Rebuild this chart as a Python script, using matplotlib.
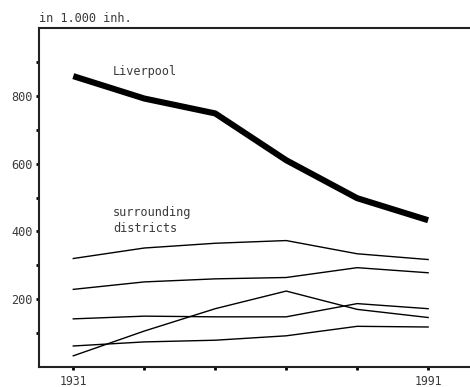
import matplotlib
matplotlib.use("Agg")
import matplotlib.pyplot as plt
from matplotlib.ticker import FixedLocator

# Census years (no census in 1941, so points are evenly spaced by census)
years = ["1931", "1951", "1961", "1971", "1981", "1991"]
year_labels = ["1931", "", "", "", "", "1991"]

liverpool = [858, 792, 748, 610, 498, 433]

district_a = [320, 351, 365, 373, 334, 317]
district_b = [229, 251, 260, 264, 293, 278]
district_c = [142, 150, 148, 148, 187, 172]
district_d = [33, 106, 172, 224, 170, 146]
district_e = [62, 74, 79, 92, 120, 118]
districts = [district_a, district_b, district_c, district_d, district_e]

y_major = [200, 400, 600, 800]
y_minor = [100, 300, 500, 700, 900]

FONT = "DejaVu Sans Mono"
TXT = "#3a3a3a"

fig = plt.figure(figsize=(4.70, 3.87), dpi=100)
ax = fig.add_axes([39 / 470, 1 - 367 / 387, 1 - 39 / 470, (367 - 28) / 387])

x = list(range(len(years)))
for series in districts:
    ax.plot(x, series, color="black", linewidth=1.0, solid_joinstyle="round")
ax.plot(x, liverpool, color="black", linewidth=4.4, solid_capstyle="butt",
        solid_joinstyle="round")

ax.set_xlim(-0.483, 5.59)
ax.set_ylim(0, 1000)

ax.spines["right"].set_visible(False)
for s in ("left", "bottom", "top"):
    ax.spines[s].set_linewidth(1.5)
    ax.spines[s].set_color("#222222")

ax.set_xticks(x)
ax.set_xticklabels(year_labels, fontfamily=FONT, fontsize=8.3, color=TXT)
ax.yaxis.set_major_locator(FixedLocator(y_major))
ax.yaxis.set_minor_locator(FixedLocator(y_minor))
ax.set_yticklabels([str(v) for v in y_major], fontfamily=FONT, fontsize=8.6,
                   color=TXT)
ax.tick_params(axis="both", which="both", direction="out", length=2.5,
               width=2, color="black")
ax.tick_params(axis="x", which="major", pad=3)
ax.tick_params(axis="y", which="major", pad=2)

ax.text(0.0, 1.01, "in 1.000 inh.", transform=ax.transAxes, ha="left",
        va="bottom", fontfamily=FONT, fontsize=8.6, color=TXT)
ax.text(0.56, 872, "Liverpool", ha="left", va="center", fontfamily=FONT,
        fontsize=8.6, color=TXT)
ax.text(0.56, 431, "surrounding\ndistricts", ha="left", va="center",
        fontfamily=FONT, fontsize=8.6, color=TXT, linespacing=1.3)

fig.savefig("out.png", dpi=100)
